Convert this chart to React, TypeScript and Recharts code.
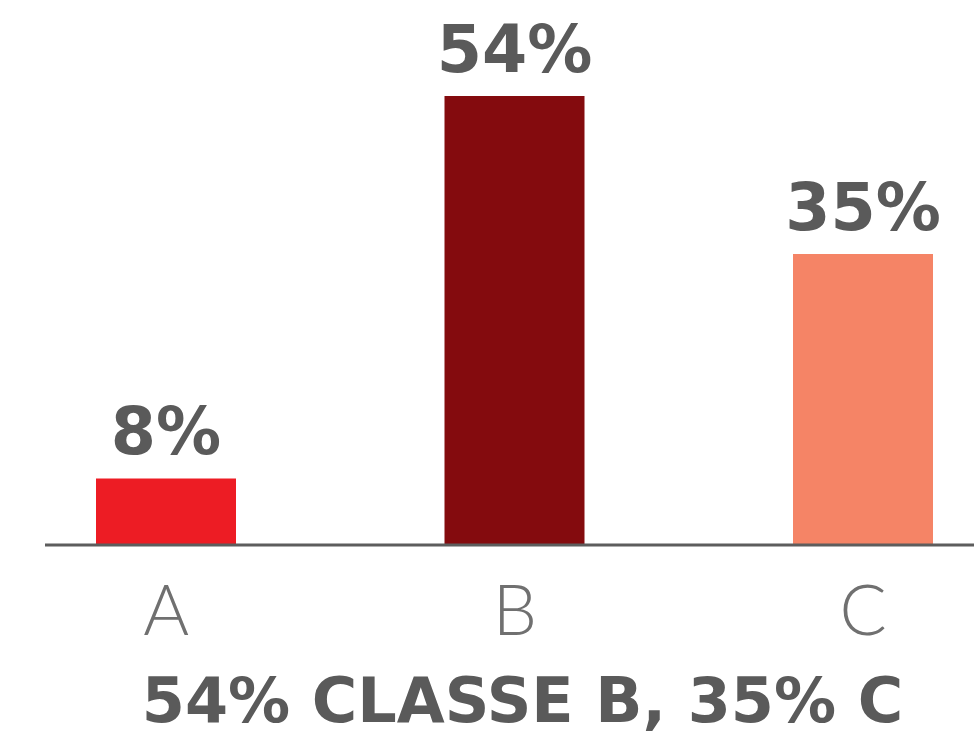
import { BarChart, Bar, XAxis, YAxis, Cell, LabelList } from 'recharts';

const categories = ['A', 'B', 'C'];
const shares = [8, 54, 35];
const barColors = ['#ed1c24', '#840b0e', '#f58466'];
const title = '54% CLASSE B, 35% C';

const data = categories.map((category, i) => ({ category, share: shares[i] }));

export default function App() {
    return (
        <div style={{ position: 'fixed', left: 0, top: 0, width: 974, height: 744, overflow: 'hidden', background: '#fff' }}>
            <BarChart width={1100} height={744} data={data} margin={{ top: 46, right: 0, left: 45, bottom: 0 }}>
                <YAxis hide domain={[0, 60]} />
                <XAxis
                    dataKey="category"
                    height={199}
                    padding={{ left: -53, right: 62.5 }}
                    axisLine={{ stroke: '#5d5d5d', strokeWidth: 3 }}
                    tickLine={false}
                    tickSize={0}
                    tickMargin={40}
                    tick={{ fontSize: 70, fill: '#707070', fontFamily: 'Lato', fontWeight: 300 }}
                />
                <Bar dataKey="share" barSize={140} isAnimationActive={false}>
                    {data.map((d, i) => (
                        <Cell key={d.category} fill={barColors[i]} />
                    ))}
                    <LabelList
                        dataKey="share"
                        position="top"
                        offset={24}
                        formatter={(v: number) => `${v}%`}
                        style={{ fontSize: 65, fill: '#5a5a5a', fontFamily: 'DejaVu Sans', fontWeight: 700 }}
                    />
                </Bar>
            </BarChart>
            <div
                style={{
                    position: 'absolute', left: 0, width: 1045, top: 670, textAlign: 'center',
                    fontFamily: 'DejaVu Sans', fontWeight: 700, fontSize: 62, lineHeight: 1,
                    color: '#5a5a5a', whiteSpace: 'nowrap',
                }}
            >
                {title}
            </div>
        </div>
    );
}
